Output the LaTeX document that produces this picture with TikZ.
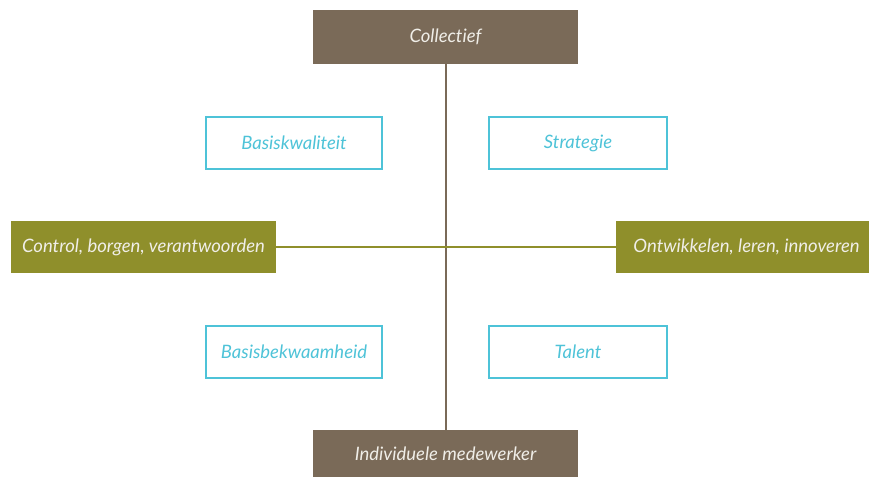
\documentclass[tikz,border=0pt]{standalone}
\usepackage{fontspec}
\setmainfont{Lato}[Ligatures=NoCommon]
\definecolor{brownbox}{HTML}{7A6A58}
\definecolor{olivebox}{HTML}{8F8F2B}
\definecolor{cyanbox}{HTML}{4EC3D8}
\definecolor{lighttext}{HTML}{F0EEE8}
\begin{document}
\begin{tikzpicture}[x=1pt,y=-1pt,
  lbl/.style={font=\fontsize{18.5}{22}\selectfont\itshape},
  brownstyle/.style={lbl,rectangle,fill=brownbox,draw=none,inner sep=0pt,minimum width=265pt,text=lighttext},
  olivestyle/.style={lbl,rectangle,fill=olivebox,draw=none,inner sep=0pt,minimum height=52pt,text=lighttext},
  cyanstyle/.style={lbl,rectangle,draw=cyanbox,line width=2pt,fill=white,inner sep=0pt,minimum width=176pt,minimum height=52pt,text=cyanbox}]
\useasboundingbox (0,0) rectangle (869,477);
\node[brownstyle,minimum height=54pt] (coll) at (445.5,37) {Collectief};
\node[brownstyle,minimum height=47pt] (indiv) at (445.5,453.5) {Individuele medewerker};
\node[olivestyle,minimum width=265pt] (ctrl) at (143.5,247) {Control, borgen, verantwoorden};
\node[olivestyle,minimum width=253pt] (ontw) at (742.5,247) {\hspace*{8pt}Ontwikkelen, leren, innoveren};
\draw[brownbox,line width=2pt] (coll.south) -- (indiv.north);
\draw[olivebox,line width=2pt] (ctrl.east) -- (ontw.west);
\node[cyanstyle] (bk) at (294,143) {Basiskwaliteit};
\node[cyanstyle,minimum width=178pt] (st) at (578,143) {Strategie};
\node[cyanstyle] (bb) at (294,352) {Basisbekwaamheid};
\node[cyanstyle,minimum width=178pt] (ta) at (578,352) {Talent};
\end{tikzpicture}
\end{document}
